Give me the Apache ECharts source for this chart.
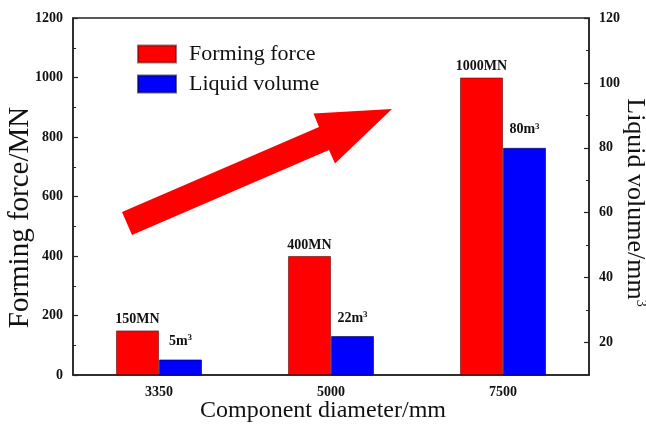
<!DOCTYPE html>
<html>
<head>
<meta charset="utf-8">
<script src="https://cdn.jsdelivr.net/npm/echarts@6/dist/echarts.min.js"></script>
<style>
  html, body { margin: 0; padding: 0; background: #fff; }
  #chart { width: 646px; height: 430px; }
</style>
</head>
<body>
<div id="chart"></div>
<script>
// Component diameters (mm) and the two measured quantities
const diameters = ['3350', '5000', '7500'];
const formingForce = [150, 400, 1000];   // MN
const liquidVolume = [5, 22, 80];        // m^3

// Tick values on the right (volume) axis
const volumeTicks = [20, 40, 60, 80, 100, 120];
const volumeMinorTicks = [30, 50, 70, 90, 110];

const SERIF = '"Liberation Serif", "Times New Roman", serif';
const INK = '#111';

const chart = echarts.init(document.getElementById('chart'), null, { renderer: 'canvas' });

const tickLabelStyle = {
  color: INK, fontFamily: SERIF, fontWeight: 'bold', fontSize: 14,
  formatter: v => String(v)
};

chart.setOption({
  animation: false,
  backgroundColor: '#fff',
  grid: {
    left: 73, right: 57, top: 18, bottom: 55,
    outerBoundsMode: 'none',
    containLabel: false,
    show: true, borderColor: '#222', borderWidth: 1.5
  },
  legend: {
    data: ['Forming force', 'Liquid volume'],
    orient: 'vertical',
    left: 137, top: 43,
    padding: 0,
    itemWidth: 38, itemHeight: 17, itemGap: 8,
    icon: 'rect',
    selectedMode: false,
    textStyle: { color: INK, fontFamily: SERIF, fontSize: 22, padding: [0, 0, 0, 8] }
  },
  xAxis: {
    type: 'category',
    data: diameters,
    name: 'Component diameter/mm',
    nameLocation: 'middle',
    nameGap: 24,
    nameMoveOverlap: false,
    nameTextStyle: { color: INK, fontFamily: SERIF, fontSize: 24, padding: [0, 16, 0, 0] },
    axisLine: { lineStyle: { color: '#222', width: 1.5 } },
    axisTick: { show: false },
    axisLabel: Object.assign({ margin: 10 }, tickLabelStyle)
  },
  yAxis: [
    {
      type: 'value',
      position: 'left',
      min: 0, max: 1200, interval: 200,
      name: 'Forming force/MN',
      nameLocation: 'middle',
      nameGap: 38,
      nameMoveOverlap: false,
      nameTextStyle: { color: INK, fontFamily: SERIF, fontSize: 29, padding: [0, 42, 0, 0] },
      axisLine: { show: true, lineStyle: { color: '#222', width: 1.5 } },
      axisTick: { show: true, inside: true, length: 5, lineStyle: { color: '#222', width: 1.2 } },
      minorTick: { show: true, splitNumber: 2, length: 3, lineStyle: { color: '#222', width: 1 } },
      axisLabel: Object.assign({ margin: 10 }, tickLabelStyle),
      splitLine: { show: false }
    },
    {
      type: 'value',
      position: 'right',
      min: 10, max: 120,
      name: 'Liquid volume/mm{s|3}',
      nameLocation: 'middle',
      nameRotate: -90,
      nameGap: 33,
      nameMoveOverlap: false,
      nameTextStyle: {
        color: INK, fontFamily: SERIF, fontSize: 26, padding: [0, 0, 0, 12],
        rich: { s: { fontFamily: SERIF, fontSize: 14, color: INK, verticalAlign: 'top', lineHeight: 14 } }
      },
      axisLine: { show: true, lineStyle: { color: '#222', width: 1.5 } },
      axisTick: { show: true, inside: true, length: 5, customValues: volumeTicks, lineStyle: { color: '#222', width: 1.2 } },
      axisLabel: Object.assign({ margin: 10, customValues: volumeTicks }, tickLabelStyle),
      splitLine: { show: false }
    },
    {
      // short in-between ticks on the volume axis
      type: 'value',
      position: 'right',
      min: 10, max: 120,
      axisLine: { show: false },
      axisTick: { show: true, inside: true, length: 3, customValues: volumeMinorTicks, lineStyle: { color: '#222', width: 1 } },
      axisLabel: { show: false },
      splitLine: { show: false }
    }
  ],
  series: [
    {
      name: 'Forming force',
      type: 'bar',
      yAxisIndex: 0,
      data: formingForce,
      barWidth: '25%',
      barGap: '0%',
      itemStyle: { color: '#ff0000', borderColor: 'rgba(90,0,0,0.55)', borderWidth: 1 },
      label: {
        show: true, position: 'top', distance: 4,
        color: INK, fontFamily: SERIF, fontWeight: 'bold', fontSize: 14,
        formatter: p => p.value + 'MN'
      }
    },
    {
      name: 'Liquid volume',
      type: 'bar',
      yAxisIndex: 1,
      data: liquidVolume,
      barWidth: '25%',
      barGap: '0%',
      // keeps the smallest volume bar visible above the axis floor
      barMinHeight: 48,
      itemStyle: { color: '#0000ff', borderColor: 'rgba(0,0,60,0.6)', borderWidth: 1 },
      label: {
        show: true, position: 'top', distance: 10,
        formatter: p => '{v|' + p.value + 'm}{s|3}',
        rich: {
          v: { color: INK, fontFamily: SERIF, fontWeight: 'bold', fontSize: 14, lineHeight: 16 },
          s: { color: INK, fontFamily: SERIF, fontWeight: 'bold', fontSize: 9, lineHeight: 9, verticalAlign: 'top' }
        }
      }
    }
  ],
  graphic: [
    {
      // trend arrow pointing toward the larger components
      type: 'polygon',
      z: 100,
      shape: {
        points: [
          [122, 212], [319, 127], [313.5, 113.5], [392, 109],
          [335, 163.5], [329, 150], [132, 235]
        ]
      },
      style: { fill: '#ff0000' }
    }
  ]
});
</script>
</body>
</html>
